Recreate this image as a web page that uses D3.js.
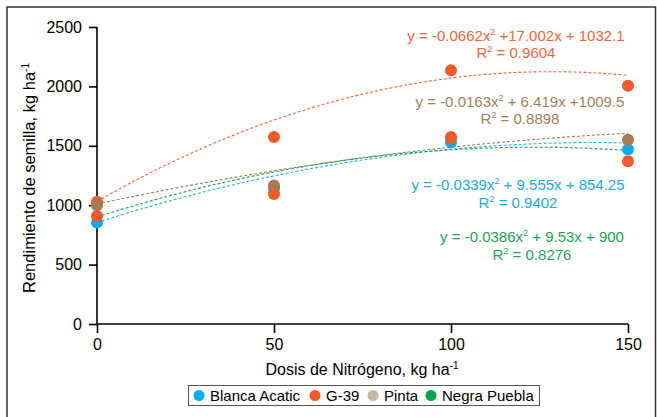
<!DOCTYPE html>
<html><head><meta charset="utf-8">
<script src="https://cdn.jsdelivr.net/npm/d3@7"></script>
<style>html,body{margin:0;padding:0;background:#fff;}svg{display:block;font-family:"Liberation Sans",Arial,sans-serif;}</style>
</head><body>
<svg id="c" width="657" height="417"></svg>
<script>
// ---- data ----
const doses = [0, 50, 100, 150];
const xTicks = [0, 50, 100, 150];
const yTicks = [0, 500, 1000, 1500, 2000, 2500];
const seriesNames = ["Blanca Acatic", "G-39", "Pinta", "Negra Puebla"];
const blancaAcatic = [855, 1140, 1530, 1470];
const g39 = [1030, 1575, 2135, 2005];
const pinta = [1000, 1165, 1560, 1550];
const negraPuebla = [910, 1095, 1575, 1370];
const coefBlanca = [-0.0339, 9.555, 854.25];
const coefG39 = [-0.0662, 17.002, 1032.1];
const coefPinta = [-0.0163, 6.419, 1009.5];
const coefNegra = [-0.0386, 9.53, 900];
const eqBlanca = ["y = -0.0339x", " + 9.555x + 854.25", "R", " = 0.9402"];
const eqG39 = ["y = -0.0662x", " +17.002x + 1032.1", "R", " = 0.9604"];
const eqPinta = ["y = -0.0163x", " + 6.419x +1009.5", "R", " = 0.8898"];
const eqNegra = ["y = -0.0386x", " + 9.53x + 900", "R", " = 0.8276"];

// ---- styling ----
const pointColors = ["#00AEEF", "#F2592A", "#A67B50", "#F2592A"];
const legendColors = ["#00AEEF", "#F2592A", "#C6B8A0", "#00A651"];
const lineColors = ["#22B2EE", "#F2673A", "#A67B50", "#16A454"];
const textColors = ["#1AAAE6", "#F2673A", "#A3805A", "#1FA256"];
const eqPos = [[518, 185, 203], [516, 36, 53], [520, 102, 119], [532, 237, 255]];

const series = [
  {name: seriesNames[0], vals: blancaAcatic, coef: coefBlanca, eq: eqBlanca},
  {name: seriesNames[1], vals: g39, coef: coefG39, eq: eqG39},
  {name: seriesNames[2], vals: pinta, coef: coefPinta, eq: eqPinta},
  {name: seriesNames[3], vals: negraPuebla, coef: coefNegra, eq: eqNegra}
];

const svg = d3.select("#c");
svg.append("rect").attr("x", 7).attr("y", 7).attr("width", 648.5).attr("height", 430)
  .attr("fill", "none").attr("stroke", "#333").attr("stroke-width", 1.5);

const x = d3.scaleLinear().domain([0, 150]).range([97, 628]);
const y = d3.scaleLinear().domain([0, 2500]).range([324, 27]);

// axes
const yAxis = svg.append("g").attr("transform", "translate(97,0)")
  .call(d3.axisLeft(y).tickValues(yTicks).tickSize(8).tickPadding(7).tickFormat(d3.format("d")));
const xAxis = svg.append("g").attr("transform", "translate(0,324)")
  .call(d3.axisBottom(x).tickValues(xTicks).tickSize(9).tickPadding(6).tickFormat(d3.format("d")));
[yAxis, xAxis].forEach(a => {
  a.select(".domain").attr("stroke", "#000").attr("stroke-width", 1.6);
  a.selectAll(".tick line").attr("stroke", "#000").attr("stroke-width", 1.6);
  a.selectAll(".tick text").attr("fill", "#000").attr("font-size", 16)
    .attr("font-family", "Liberation Sans, Arial, sans-serif");
});
yAxis.select(".domain").attr("d", `M0,${y(2500)}V${324}`);
xAxis.select(".domain").attr("d", `M${x(0)},0H${x(150)}`);

// trend lines
const xs = d3.range(0, 150.5, 1);
const line = d3.line().x(d => x(d[0])).y(d => y(d[1]));
series.forEach((s, i) => {
  const pts = xs.map(v => [v, s.coef[0] * v * v + s.coef[1] * v + s.coef[2]]);
  svg.append("path").attr("d", line(pts)).attr("fill", "none")
    .attr("stroke", lineColors[i]).attr("stroke-width", 1.1).attr("stroke-dasharray", "3,2");
});

// points
series.forEach((s, i) => {
  svg.append("g").selectAll("circle").data(s.vals).join("circle")
    .attr("cx", (d, j) => x(doses[j])).attr("cy", d => y(d)).attr("r", 6)
    .attr("fill", pointColors[i]);
});

// equations
series.forEach((s, i) => {
  const [cx, y1, y2] = eqPos[i];
  const t1 = svg.append("text").attr("x", cx).attr("y", y1 + 5).attr("text-anchor", "middle")
    .attr("font-size", 15).attr("fill", textColors[i]).style("white-space", "pre");
  t1.append("tspan").text(s.eq[0]);
  t1.append("tspan").attr("dy", -6).attr("font-size", 9).text("2");
  t1.append("tspan").attr("dy", 6).text(s.eq[1]);
  const t2 = svg.append("text").attr("x", cx).attr("y", y2 + 5).attr("text-anchor", "middle")
    .attr("font-size", 15).attr("fill", textColors[i]).style("white-space", "pre");
  t2.append("tspan").text(s.eq[2]);
  t2.append("tspan").attr("dy", -6).attr("font-size", 9).text("2");
  t2.append("tspan").attr("dy", 6).text(s.eq[3]);
});

// axis titles
const xt = svg.append("text").attr("x", 362).attr("y", 375).attr("text-anchor", "middle")
  .attr("font-size", 16).attr("fill", "#000");
xt.append("tspan").text("Dosis de Nitrógeno, kg ha");
xt.append("tspan").attr("dy", -6).attr("font-size", 10).text("-1");

const yt = svg.append("text").attr("transform", "translate(35,178) rotate(-90)")
  .attr("text-anchor", "middle").attr("font-size", 16.5).attr("fill", "#000");
yt.append("tspan").text("Rendimiento de semilla, kg ha");
yt.append("tspan").attr("dy", -6).attr("font-size", 10).text("-1");

// legend
svg.append("rect").attr("x", 188.5).attr("y", 385.5).attr("width", 351).attr("height", 20)
  .attr("fill", "#fff").attr("stroke", "#555").attr("stroke-width", 1);
const legX = [199, 315, 373, 431];
seriesNames.forEach((n, i) => {
  svg.append("circle").attr("cx", legX[i]).attr("cy", 395.5).attr("r", 5.5).attr("fill", legendColors[i]);
  svg.append("text").attr("x", legX[i] + 11).attr("y", 401).attr("font-size", 15)
    .attr("fill", "#000").text(n);
});
</script>
</body></html>
